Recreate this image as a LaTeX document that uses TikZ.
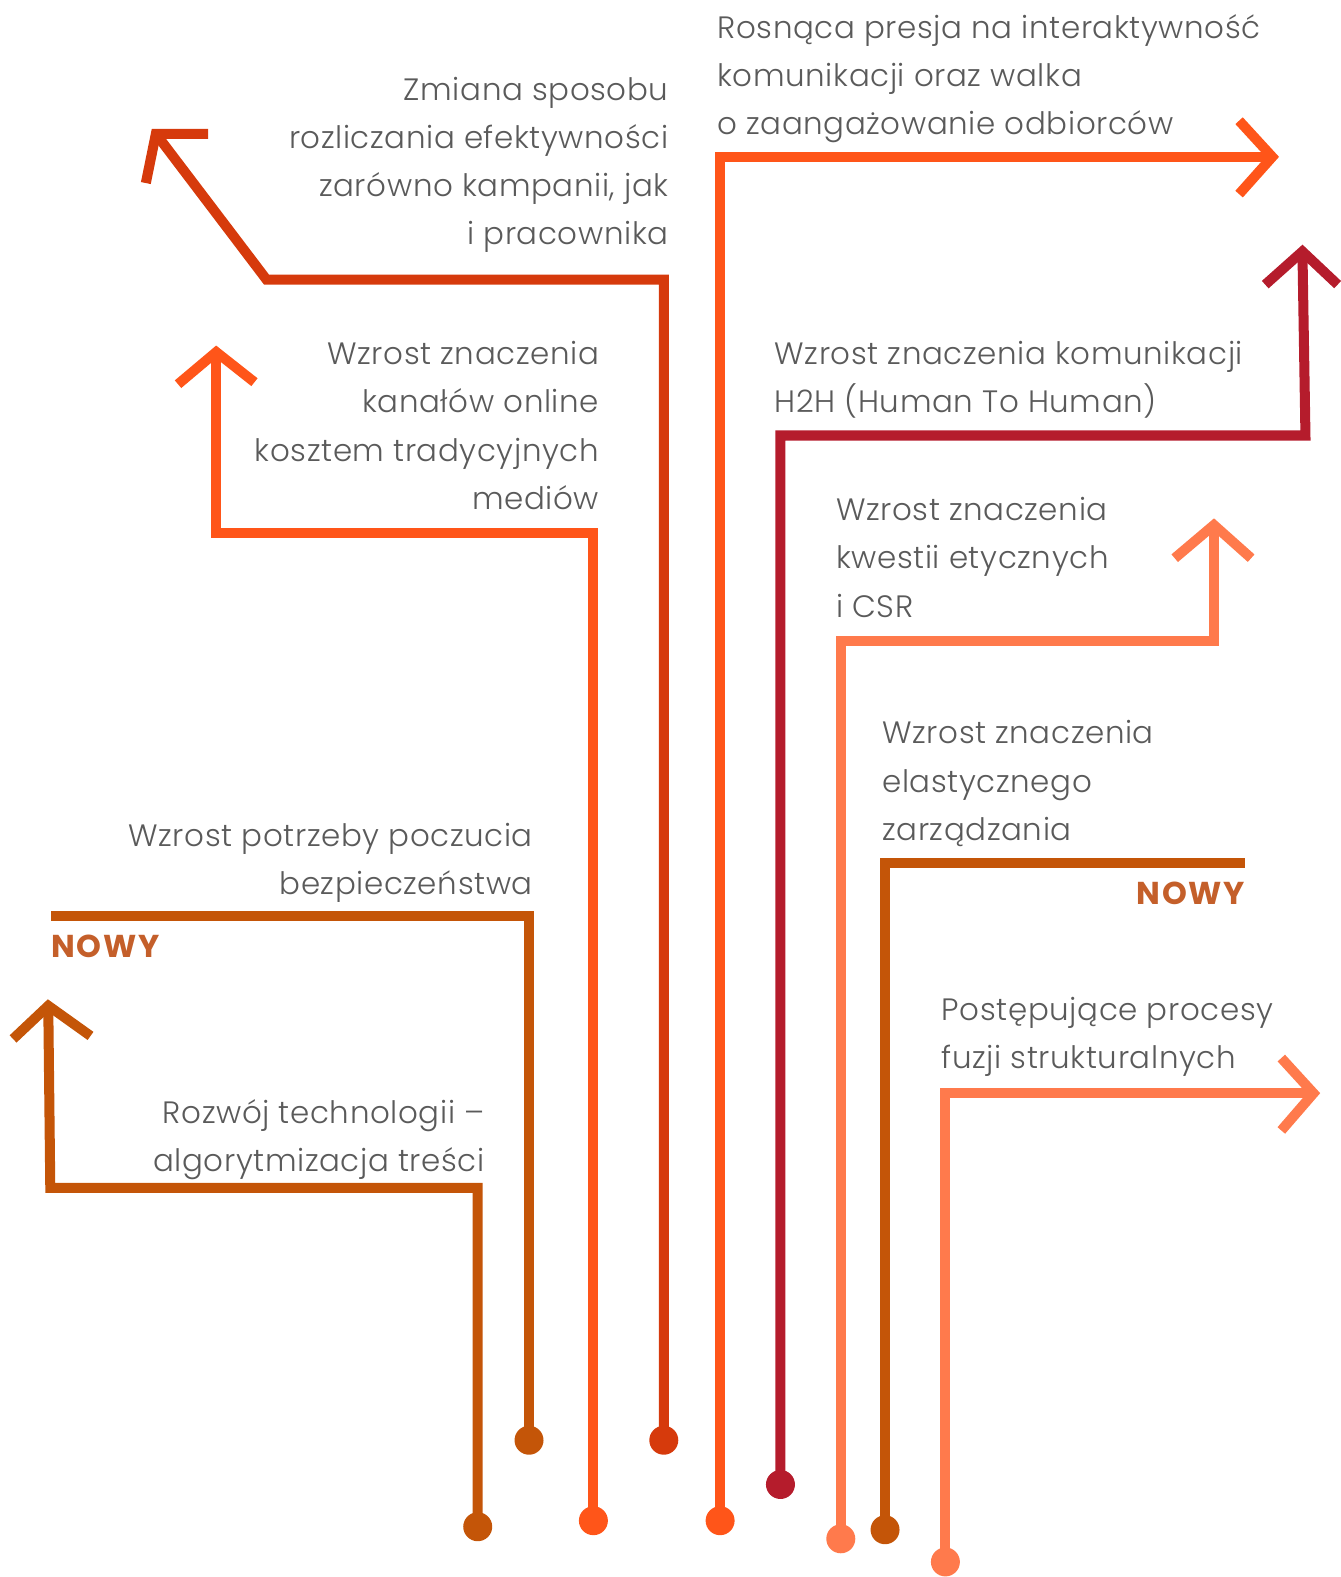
\documentclass[tikz,border=0pt]{standalone}
\usepackage{fontspec}
\setmainfont{Poppins}[UprightFont=* Light, BoldFont=* Bold]
\definecolor{rust}{HTML}{D63A0C}
\definecolor{flame}{HTML}{FF5519}
\definecolor{crimson}{HTML}{B51C2C}
\definecolor{salmon}{HTML}{FF7A4C}
\definecolor{burnt}{HTML}{C45508}
\definecolor{burntlt}{HTML}{C45F2A}
\definecolor{txt}{HTML}{5A5A5A}
\begin{document}
\begin{tikzpicture}[
            x=0.02012cm, y=-0.02012cm,
            trend/.style={line width=5.7pt},
            dot/.style={circle, fill, inner sep=0pt, minimum size=0.58cm},
            lbl/.style={text=txt, inner sep=0pt, font=\fontsize{17.6}{27.5}\selectfont\addfontfeatures{LetterSpace=2}},
            nowy/.style={text=burntlt, inner sep=0pt, font=\fontsize{18}{20}\selectfont\bfseries\addfontfeatures{LetterSpace=5}}
        ]
        \useasboundingbox (0,0) rectangle (1333,1568);

        % dots at the foot of each line
        \node[dot, rust] (d1) at (660,1432) {};
        \node[dot, flame] (d2) at (590,1512) {};
        \node[dot, flame] (d3) at (716,1512) {};
        \node[dot, crimson] (d4) at (776,1476) {};
        \node[dot, salmon] (d5) at (836,1530) {};
        \node[dot, burnt] (d6) at (880,1521) {};
        \node[dot, salmon] (d7) at (940,1553) {};
        \node[dot, burnt] (d8) at (526,1432) {};
        \node[dot, burnt] (d9) at (475,1518) {};

        % corners, ends and tips
        \coordinate (e1) at (265,278);  \coordinate (t1) at (155,133);
        \coordinate (a1) at (207,133);  \coordinate (b1) at (145,182);
        \coordinate (c2) at (215,530);  \coordinate (t2) at (215,350);
        \coordinate (a2) at (177,382);  \coordinate (b2) at (253,380);
        \coordinate (t3) at (1265,156);
        \coordinate (a3) at (1232,120); \coordinate (b3) at (1232,193);
        \coordinate (c4) at (1298,433); \coordinate (t4) at (1295,250);
        \coordinate (a4) at (1258,283); \coordinate (b4) at (1330,283);
        \coordinate (c5) at (1207,637); \coordinate (t5) at (1207,522);
        \coordinate (a5) at (1168,555); \coordinate (b5) at (1244,555);
        \coordinate (e6) at (1238,858);
        \coordinate (t7) at (1306,1087);
        \coordinate (a7) at (1274,1052); \coordinate (b7) at (1274,1124);
        \coordinate (e8) at (51,911);
        \coordinate (c9) at (50,1181);  \coordinate (t9) at (48,1000);
        \coordinate (a9) at (13,1033);  \coordinate (b9) at (90,1030);

        \draw[trend, rust] (d1.center) |- (e1) -- (t1);
        \draw[trend, rust] (a1) -- (t1) -- (b1);
        \draw[trend, flame] (d2.center) |- (c2) -- (t2);
        \draw[trend, flame] (a2) -- (t2) -- (b2);
        \draw[trend, flame] (d3.center) |- (t3);
        \draw[trend, flame] (a3) -- (t3) -- (b3);
        \draw[trend, crimson] (d4.center) |- (c4) -- (t4);
        \draw[trend, crimson] (a4) -- (t4) -- (b4);
        \draw[trend, salmon] (d5.center) |- (c5) -- (t5);
        \draw[trend, salmon] (a5) -- (t5) -- (b5);
        \draw[trend, burnt] (d6.center) |- (e6);
        \draw[trend, salmon] (d7.center) |- (t7);
        \draw[trend, salmon] (a7) -- (t7) -- (b7);
        \draw[trend, burnt] (d8.center) |- (e8);
        \draw[trend, burnt] (d9.center) |- (c9) -- (t9);
        \draw[trend, burnt] (a9) -- (t9) -- (b9);

        % labels
        \node[lbl, align=right, anchor=north east] (zmiana) at (665,76)
            {Zmiana sposobu\\rozliczania efektywności\\zarówno kampanii, jak\\i pracownika};
        \node[lbl, align=left, anchor=north west] (presja) at (713,14)
            {Rosnąca presja na interaktywność\\komunikacji oraz walka\\o zaangażowanie odbiorców};
        \node[lbl, align=right, anchor=north east] (kanaly) at (596,339)
            {Wzrost znaczenia\\kanałów online\\kosztem tradycyjnych\\mediów};
        \node[lbl, align=left, anchor=north west] (h2h) at (770,339)
            {Wzrost znaczenia komunikacji\\H2H (Human To Human)};
        \node[lbl, align=left, anchor=north west] (csr) at (831,494)
            {Wzrost znaczenia\\kwestii etycznych\\i CSR};
        \node[lbl, align=left, anchor=north west] (elast) at (877,716)
            {Wzrost znaczenia\\elastycznego\\zarządzania};
        \node[lbl, align=left, anchor=north west] (fuzja) at (936,991)
            {Postępujące procesy\\fuzji strukturalnych};
        \node[lbl, align=right, anchor=north east] (bezp) at (530,818)
            {Wzrost potrzeby poczucia\\bezpieczeństwa};
        \node[lbl, align=right, anchor=north east] (tech) at (482,1093)
            {Rozwój technologii –\\algorytmizacja treści};
        \node[nowy, anchor=north west] (nowyL) at (51,929) {NOWY};
        \node[nowy, anchor=north east] (nowyR) at (1238,877) {NOWY};
    \end{tikzpicture}
\end{document}
